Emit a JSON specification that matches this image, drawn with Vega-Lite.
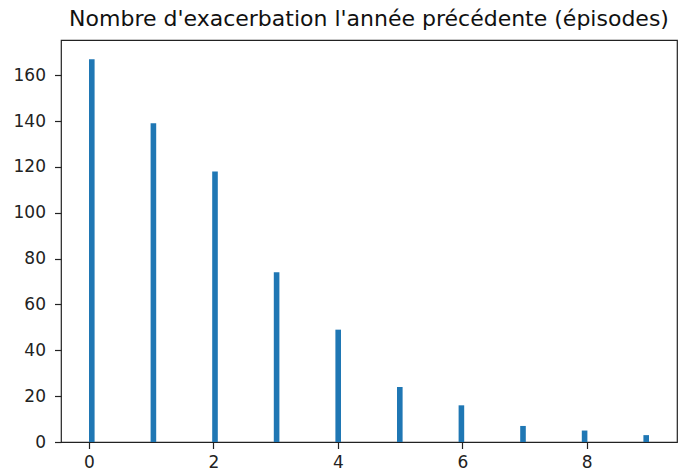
{
  "$schema": "https://vega.github.io/schema/vega-lite/v6.json",
  "autosize": "none",
  "padding": {"left": 61, "top": 40, "right": 1, "bottom": 33},
  "width": 616,
  "height": 402,
  "background": "white",
  "title": {
    "text": "Nombre d'exacerbation l'année précédente (épisodes)",
    "anchor": "middle",
    "frame": "group",
    "font": "DejaVu Sans",
    "fontSize": 22,
    "fontWeight": "normal",
    "color": "#111",
    "baseline": "bottom",
    "offset": 7,
    "dy": 20
  },
  "data": {
    "values": [
      {"bin_start": 0.0, "bin_end": 0.09, "count": 167},
      {"bin_start": 0.99, "bin_end": 1.08, "count": 139},
      {"bin_start": 1.98, "bin_end": 2.07, "count": 118},
      {"bin_start": 2.97, "bin_end": 3.06, "count": 74},
      {"bin_start": 3.96, "bin_end": 4.05, "count": 49},
      {"bin_start": 4.95, "bin_end": 5.04, "count": 24},
      {"bin_start": 5.94, "bin_end": 6.03, "count": 16},
      {"bin_start": 6.93, "bin_end": 7.02, "count": 7},
      {"bin_start": 7.92, "bin_end": 8.01, "count": 5},
      {"bin_start": 8.91, "bin_end": 9.0, "count": 3}
    ]
  },
  "mark": {"type": "rect", "color": "#1f77b4"},
  "encoding": {
    "x": {
      "field": "bin_start",
      "type": "quantitative",
      "scale": {"domain": [-0.45, 9.45], "nice": false, "zero": false},
      "axis": {"values": [0, 2, 4, 6, 8], "format": "d", "title": null, "labelPadding": 6}
    },
    "x2": {"field": "bin_end"},
    "y": {
      "field": "count",
      "type": "quantitative",
      "scale": {"domain": [0, 175.35], "nice": false},
      "axis": {"values": [0, 20, 40, 60, 80, 100, 120, 140, 160], "format": "d", "title": null, "labelPadding": 9}
    },
    "y2": {"datum": 0}
  },
  "config": {
    "view": {"stroke": "#222", "strokeWidth": 1.2},
    "axis": {
      "domain": false,
      "grid": false,
      "ticks": true,
      "tickColor": "#222",
      "tickWidth": 1.2,
      "tickSize": 6.5,
      "labelFont": "DejaVu Sans",
      "labelFontSize": 17,
      "labelColor": "#222"
    }
  }
}
